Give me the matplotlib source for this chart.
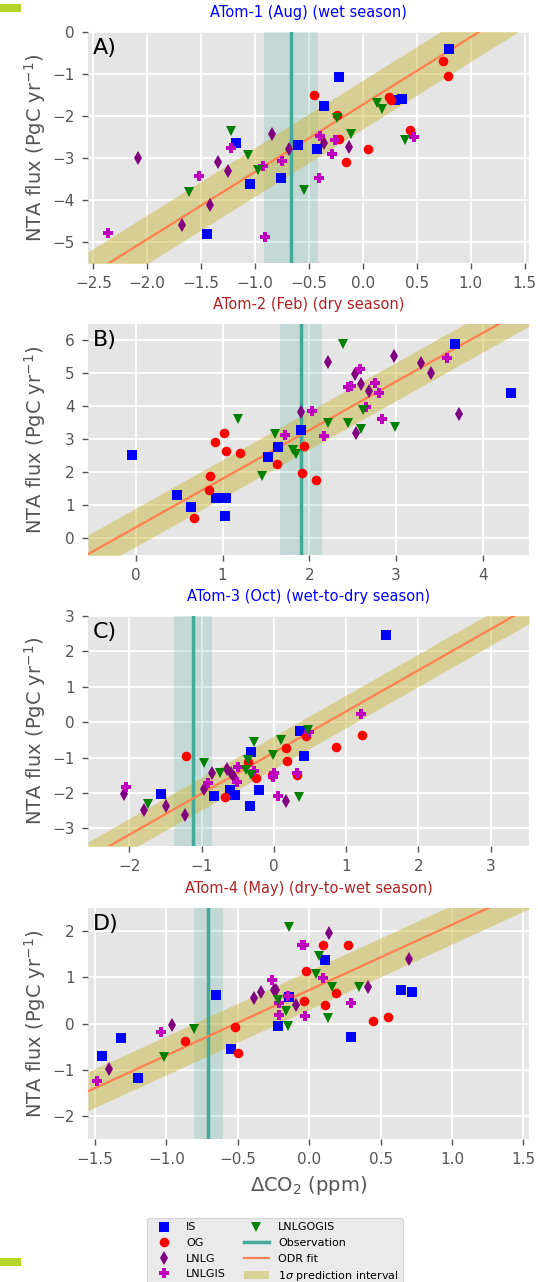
import numpy as np
import matplotlib
matplotlib.use("Agg")
import matplotlib.pyplot as plt
from matplotlib.lines import Line2D
from matplotlib.patches import Patch, Rectangle

# ---------------- data ----------------
panel_titles = ["ATom-1 (Aug) (wet season)", "ATom-2 (Feb) (dry season)",
                "ATom-3 (Oct) (wet-to-dry season)", "ATom-4 (May) (dry-to-wet season)"]
title_colors = ["#0000FF", "#B22222", "#0000FF", "#B22222"]
panel_letters = ["A)", "B)", "C)", "D)"]

groups = ["IS", "OG", "LNLG", "LNLGIS", "LNLGOGIS"]
group_markers = ["s", "o", "d", "P", "v"]
group_colors = ["#0000FF", "#FF0000", "#800080", "#BF00BF", "#008000"]

# Panel A
A_IS_x = [0.80, -0.22, -0.36, 0.30, 0.36, -1.18, -0.60, -0.43, -0.76, -1.05, -1.45]
A_IS_y = [-0.41, -1.06, -1.75, -1.62, -1.59, -2.64, -2.68, -2.78, -3.47, -3.62, -4.80]
A_OG_x = [0.74, 0.79, -0.45, 0.24, 0.26, -0.24, 0.44, -0.22, 0.05, -0.16]
A_OG_y = [-0.68, -1.05, -1.49, -1.55, -1.63, -1.98, -2.33, -2.54, -2.79, -3.10]
A_LNLG_x = [-2.09, -0.84, -1.34, -1.25, -1.42, -1.68, -0.69, -0.36, -0.13]
A_LNLG_y = [-3.01, -2.42, -3.09, -3.30, -4.12, -4.60, -2.79, -2.65, -2.73]
A_LNLGIS_x = [-2.36, -1.52, -1.22, -0.93, -0.75, -0.91, -0.40, -0.26, -0.29, -0.41, 0.47]
A_LNLGIS_y = [-4.79, -3.44, -2.75, -3.20, -3.07, -4.89, -2.48, -2.58, -2.91, -3.47, -2.50]
A_LNLGOGIS_x = [-1.22, -1.07, -0.97, -1.61, -0.55, -0.24, -0.11, 0.13, 0.18, 0.39]
A_LNLGOGIS_y = [-2.36, -2.92, -3.29, -3.82, -3.75, -2.05, -2.42, -1.69, -1.84, -2.58]

# Panel B
B_IS_x = [-0.04, 0.48, 0.64, 0.92, 1.04, 1.03, 1.52, 1.64, 1.90, 3.68, 4.32]
B_IS_y = [2.54, 1.33, 0.95, 1.24, 1.24, 0.69, 2.46, 2.76, 3.30, 5.90, 4.40]
B_OG_x = [0.67, 0.84, 0.85, 0.91, 1.02, 1.04, 1.20, 1.63, 1.94, 1.91, 2.08]
B_OG_y = [0.61, 1.48, 1.89, 2.91, 3.19, 2.66, 2.59, 2.27, 2.79, 1.98, 1.77]
B_LNLG_x = [2.21, 1.90, 2.52, 2.59, 2.69, 2.54, 2.98, 3.29, 3.40, 3.72]
B_LNLG_y = [5.34, 3.82, 4.97, 4.69, 4.47, 3.20, 5.54, 5.31, 5.03, 3.78]
B_LNLGIS_x = [1.72, 2.03, 2.17, 2.44, 2.48, 2.58, 2.76, 2.80, 2.65, 2.84, 3.58]
B_LNLGIS_y = [3.15, 3.86, 3.11, 4.59, 4.62, 5.14, 4.72, 4.42, 3.98, 3.61, 5.47]
B_LNLGOGIS_x = [1.18, 1.45, 1.60, 1.81, 1.85, 2.21, 2.39, 2.44, 2.62, 2.60, 2.99]
B_LNLGOGIS_y = [3.61, 1.90, 3.18, 2.68, 2.55, 3.49, 5.90, 3.51, 3.88, 3.33, 3.39]

# Panel C
C_IS_x = [1.55, -1.56, -0.83, -0.61, -0.54, -0.33, -0.21, -0.31, 0.36, 0.42]
C_IS_y = [2.47, -2.03, -2.10, -1.93, -2.05, -2.36, -1.92, -0.85, -0.26, -0.95]
C_OG_x = [-1.22, -0.68, -0.36, -0.25, -0.03, 0.17, 0.18, 0.32, 0.45, 0.86, 1.22]
C_OG_y = [-0.95, -2.12, -1.12, -1.59, -1.50, -0.74, -1.09, -1.50, -0.40, -0.69, -0.36]
C_LNLG_x = [-2.07, -1.79, -1.49, -1.23, -0.96, -0.85, -0.65, -0.59, -0.55, 0.17]
C_LNLG_y = [-2.02, -2.47, -2.37, -2.62, -1.88, -1.43, -1.31, -1.45, -1.55, -2.24]
C_LNLGIS_x = [-2.05, -0.91, -0.50, -0.51, -0.28, 0.00, -0.01, 0.06, 0.32, 0.48, 1.20]
C_LNLGIS_y = [-1.82, -1.71, -1.26, -1.68, -1.39, -1.43, -1.55, -2.09, -1.43, -0.28, 0.22]
C_LNLGOGIS_x = [-1.74, -0.97, -0.74, -0.38, -0.35, -0.31, -0.28, -0.01, 0.10, 0.35, 0.47]
C_LNLGOGIS_y = [-2.32, -1.16, -1.43, -1.34, -1.07, -1.49, -0.57, -0.93, -0.51, -2.11, -0.21]

# Panel D
D_IS_x = [-1.45, -1.32, -1.20, -0.65, -0.55, -0.22, -0.14, 0.11, 0.29, 0.64, 0.72]
D_IS_y = [-0.71, -0.32, -1.18, 0.61, -0.56, -0.06, 0.57, 1.37, -0.30, 0.72, 0.69]
D_OG_x = [-0.87, -0.52, -0.50, -0.04, -0.02, 0.10, 0.11, 0.19, 0.27, 0.45, 0.55]
D_OG_y = [-0.38, -0.07, -0.64, 0.48, 1.13, 1.70, 0.40, 0.66, 1.69, 0.05, 0.13]
D_LNLG_x = [-1.40, -0.96, -0.39, -0.34, -0.25, -0.23, -0.09, 0.14, 0.41, 0.70]
D_LNLG_y = [-0.99, -0.03, 0.56, 0.69, 0.73, 0.72, 0.39, 1.96, 0.79, 1.40]
D_LNLGIS_x = [-1.49, -1.04, -0.26, -0.21, -0.21, -0.15, -0.05, -0.04, -0.03, 0.10, 0.29]
D_LNLGIS_y = [-1.24, -0.19, 0.95, 0.44, 0.19, 0.59, 1.70, 1.70, 0.16, 0.98, 0.44]
D_LNLGOGIS_x = [-1.02, -0.81, -0.22, -0.16, -0.15, -0.14, 0.05, 0.07, 0.13, 0.16, 0.35]
D_LNLGOGIS_y = [-0.73, -0.11, 0.51, 0.27, -0.05, 2.08, 1.08, 1.47, 0.12, 0.79, 0.78]

scatter_data = [
    [(A_IS_x, A_IS_y), (A_OG_x, A_OG_y), (A_LNLG_x, A_LNLG_y), (A_LNLGIS_x, A_LNLGIS_y), (A_LNLGOGIS_x, A_LNLGOGIS_y)],
    [(B_IS_x, B_IS_y), (B_OG_x, B_OG_y), (B_LNLG_x, B_LNLG_y), (B_LNLGIS_x, B_LNLGIS_y), (B_LNLGOGIS_x, B_LNLGOGIS_y)],
    [(C_IS_x, C_IS_y), (C_OG_x, C_OG_y), (C_LNLG_x, C_LNLG_y), (C_LNLGIS_x, C_LNLGIS_y), (C_LNLGOGIS_x, C_LNLGOGIS_y)],
    [(D_IS_x, D_IS_y), (D_OG_x, D_OG_y), (D_LNLG_x, D_LNLG_y), (D_LNLGIS_x, D_LNLGIS_y), (D_LNLGOGIS_x, D_LNLGOGIS_y)],
]

obs_value = [-0.665, 1.90, -1.115, -0.706]
obs_sigma = [0.25, 0.24, 0.263, 0.10]
fit_slope = [1.604, 1.474, 1.162, 1.414]
fit_intercept = [-1.725, 0.337, -0.857, 0.725]
pred_halfwidth = [0.58, 0.58, 0.46, 0.42]

xlims = [(-2.55, 1.54), (-0.55, 4.53), (-2.57, 3.53), (-1.55, 1.54)]
ylims = [(-5.5, 0.0), (-0.5, 6.5), (-3.5, 3.0), (-2.5, 2.5)]
xticks = [[-2.5, -2.0, -1.5, -1.0, -0.5, 0.0, 0.5, 1.0, 1.5], [0, 1, 2, 3, 4],
          [-2, -1, 0, 1, 2, 3], [-1.5, -1.0, -0.5, 0.0, 0.5, 1.0, 1.5]]
yticks = [[-5, -4, -3, -2, -1, 0], [0, 1, 2, 3, 4, 5, 6],
          [-3, -2, -1, 0, 1, 2, 3], [-2, -1, 0, 1, 2]]

# ---------------- style ----------------
plt.rcParams['font.family'] = ['DejaVu Sans']
GREY_TXT = "#555555"
OBS_COLOR = "#44AA99"
FIT_COLOR = "#FF7F50"
BAND_COLOR = "#C8B430"

W, H = 538, 1282
fig = plt.figure(figsize=(W / 100, H / 100), dpi=100)

ax_left, ax_right = 88, 529
ax_tops = [32, 324, 616, 908]
ax_bottoms = [263, 555, 846, 1139]

for i in range(4):
    ax = fig.add_axes([ax_left / W, 1 - ax_bottoms[i] / H,
                       (ax_right - ax_left) / W, (ax_bottoms[i] - ax_tops[i]) / H])
    ax.set_facecolor("#E5E5E5")
    for s in ax.spines.values():
        s.set_visible(False)
    ax.grid(True, color="white", linewidth=1.3)
    ax.set_axisbelow(True)
    ax.set_xlim(*xlims[i])
    ax.set_ylim(*ylims[i])
    ax.set_xticks(xticks[i])
    ax.set_yticks(yticks[i])
    ax.tick_params(axis='both', direction='out', length=4.5, width=1.0, color=GREY_TXT,
                   labelcolor=GREY_TXT, labelsize=11, pad=5)

    # observation band and line
    ax.axvspan(obs_value[i] - obs_sigma[i], obs_value[i] + obs_sigma[i],
               color=OBS_COLOR, alpha=0.2, lw=0, zorder=1)
    ax.axvline(obs_value[i], color=OBS_COLOR, lw=2.5, zorder=2)

    # ODR fit and prediction interval
    xx = np.array(xlims[i])
    yy = fit_slope[i] * xx + fit_intercept[i]
    ax.fill_between(xx, yy - pred_halfwidth[i], yy + pred_halfwidth[i],
                    color=BAND_COLOR, alpha=0.45, lw=0, zorder=1.5)
    ax.plot(xx, yy, color=FIT_COLOR, lw=1.6, zorder=2.5)

    for g in range(5):
        gx, gy = scatter_data[i][g]
        ax.plot(gx, gy, ls='none', marker=group_markers[g], color=group_colors[g],
                ms=6.9, mew=0, zorder=3 + g * 0.1)

    ax.set_xlim(*xlims[i])
    ax.set_ylim(*ylims[i])
    ax.set_title(panel_titles[i], color=title_colors[i], fontsize=10.5, pad=10.5)
    ax.text(0.011, 0.975, panel_letters[i], transform=ax.transAxes, fontsize=16,
            va='top', ha='left', color='black', zorder=5)
    ax.set_ylabel("NTA flux (PgC yr$^{-1}$)", fontsize=14, color=GREY_TXT)
    ax.yaxis.set_label_coords(-0.09, 0.5)
    if i == 3:
        ax.set_xlabel("ΔCO$_2$ (ppm)", fontsize=14, color=GREY_TXT, labelpad=5)

# legend
handles = []
for g in range(5):
    handles.append(Line2D([], [], ls='none', marker=group_markers[g], color=group_colors[g],
                          ms=6.9, mew=0, label=groups[g]))
handles.append(Line2D([], [], color=OBS_COLOR, lw=2.5, label="Observation"))
handles.append(Line2D([], [], color=FIT_COLOR, lw=1.6, label="ODR fit"))
handles.append(Patch(facecolor=BAND_COLOR, alpha=0.45, edgecolor='none',
                     label="1$\\sigma$ prediction interval"))
leg = fig.legend(handles=handles, ncol=2, loc='upper left',
                 bbox_to_anchor=(147 / W, 1 - 1218 / H), fontsize=8,
                 frameon=True, facecolor="#E5E5E5", edgecolor="#CCCCCC",
                 handlelength=2.3, handletextpad=0.8, columnspacing=1.6,
                 borderaxespad=0, labelspacing=0.5)
leg.get_frame().set_linewidth(0.8)

# decorative corner marks
fig.patches.append(Rectangle((0, 1 - 12 / H), 21 / W, 8 / H, transform=fig.transFigure,
                             facecolor="#B5D42A", edgecolor='none', zorder=10))
fig.patches.append(Rectangle((0, 1 - 1266 / H), 21 / W, 8 / H, transform=fig.transFigure,
                             facecolor="#B5D42A", edgecolor='none', zorder=10))

fig.savefig("out.png", dpi=100)
